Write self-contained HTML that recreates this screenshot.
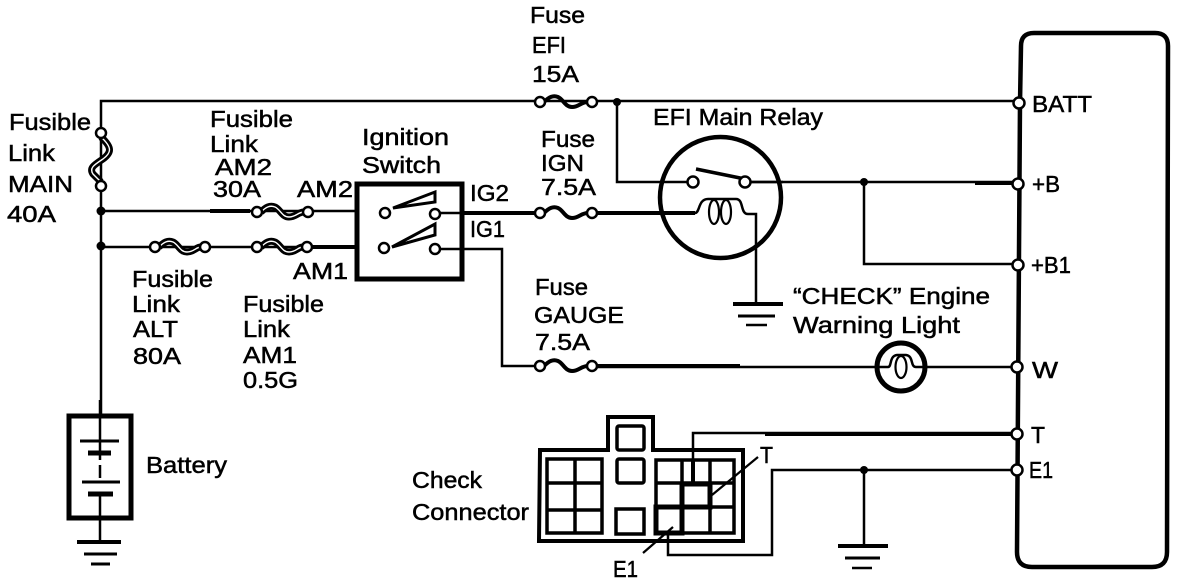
<!DOCTYPE html>
<html><head><meta charset="utf-8"><style>
html,body{margin:0;padding:0;background:#fff;width:1184px;height:584px;overflow:hidden}
svg{display:block}
text{font-family:"Liberation Sans",sans-serif;font-size:23px;fill:#000;stroke:#000;stroke-width:.5px}
.w{fill:none;stroke:#000;stroke-width:2.5}
.t{fill:none;stroke:#000;stroke-width:4}
.o{fill:none;stroke:#000;stroke-width:5}
.c{fill:#fff;stroke:#000;stroke-width:2.5}
.k{fill:none;stroke:#000;stroke-width:7}
.i{fill:none;stroke:#fff;stroke-width:1.4}
.f{fill:none;stroke:#000;stroke-width:4}
</style></head><body>
<svg width="1184" height="584" viewBox="0 0 1184 584" xmlns="http://www.w3.org/2000/svg">
<!-- wires -->
<path class="w" d="M101 415V101H1016"/>
<path class="w" d="M617 102V182H660"/>
<path class="w" d="M749 182H1016" />
<path class="t" d="M975 183H1016"/>
<path class="w" d="M864 182V264H1016"/>
<path class="w" d="M101 211H358M101 247H358"/>
<path class="t" d="M312 247H358M210 211H250"/>
<path class="w" d="M440 213H540M440 249H502V366H540"/>
<path class="t" d="M462 213H540M592 213H695"/>
<path class="w" d="M592 367H1016"/>
<path class="t" d="M592 366H740"/>
<!-- junctions -->
<circle cx="101" cy="211" r="4.5"/><circle cx="101" cy="246" r="4.5"/><circle cx="617" cy="102" r="4"/><circle cx="864" cy="182" r="4"/><circle cx="864" cy="470" r="4"/>
<!-- fuses -->
<path class="f" d="M544 102c5-5 9-7 14-5c5 2 7 10 14 10c7 0 9-5 16-5"/>
<path class="f" d="M544 213c5-5 9-7 14-5c5 2 7 10 14 10c7 0 9-5 16-5"/>
<path class="f" d="M544 366c5-5 9-7 14-5c5 2 7 10 14 10c7 0 9-5 16-5"/>
<!-- links -->
<path class="k" d="M101 137C113 148 111 153 103 159C94 165 89 168 93 174L101 182"/>
<path class="i" d="M101 137C113 148 111 153 103 159C94 165 89 168 93 174L101 182"/>
<path class="k" d="M261 212c5-5 9-7 14-5c5 2 7 10 14 10c7 0 9-5 15-5"/><path class="i" d="M261 212c5-5 9-7 14-5c5 2 7 10 14 10c7 0 9-5 15-5"/>
<path class="k" d="M261 247c5-5 9-7 14-5c5 2 7 10 14 10c7 0 9-5 14-5"/><path class="i" d="M261 247c5-5 9-7 14-5c5 2 7 10 14 10c7 0 9-5 14-5"/>
<path class="k" d="M159 247c5-5 9-7 14-5c5 2 7 10 14 10c7 0 9-5 14-5"/><path class="i" d="M159 247c5-5 9-7 14-5c5 2 7 10 14 10c7 0 9-5 14-5"/>
<!-- terminals -->
<circle cx="101" cy="133" r="5" class="c"/><circle cx="101" cy="186" r="5" class="c"/>
<circle cx="257" cy="212" r="5" class="c"/><circle cx="308" cy="212" r="5" class="c"/>
<circle cx="257" cy="247" r="5" class="c"/><circle cx="307" cy="247" r="5" class="c"/>
<circle cx="155" cy="247" r="5" class="c"/><circle cx="205" cy="247" r="5" class="c"/>
<circle cx="540" cy="102" r="5" class="c"/><circle cx="592" cy="102" r="5" class="c"/>
<circle cx="540" cy="213" r="5" class="c"/><circle cx="592" cy="213" r="5" class="c"/>
<circle cx="540" cy="366" r="5" class="c"/><circle cx="592" cy="366" r="5" class="c"/>
<!-- ignition switch -->
<rect class="o" x="357" y="184" width="105" height="95" fill="none"/>
<path d="M393 208L435 192V202Z" fill="#fff" stroke="#000" stroke-width="3"/>
<path d="M392 247L435 224V235Z" fill="#fff" stroke="#000" stroke-width="3"/>
<circle class="c" cx="385" cy="213" r="5"/><circle class="c" cx="435" cy="214" r="5"/>
<circle class="c" cx="384" cy="248" r="5"/><circle class="c" cx="435" cy="249" r="5"/>
<!-- relay -->
<circle cx="720.5" cy="197.5" r="60.5" fill="none" stroke="#000" stroke-width="4.5"/>
<path class="w" d="M660 182H688M749 182H783"/>
<path d="M696 169L745 179" stroke="#000" stroke-width="3.5" fill="none"/>
<circle class="c" cx="693" cy="182" r="5.5"/><circle class="c" cx="745" cy="182" r="5.5"/>
<path class="w" d="M660 213H695C700 213 698 199 708 199H736C744 199 740 214 748 214H756V302"/>
<ellipse cx="714" cy="212" rx="5" ry="12" fill="none" stroke="#000" stroke-width="2.2"/>
<ellipse cx="726" cy="212" rx="5" ry="12" fill="none" stroke="#000" stroke-width="2.2"/>
<!-- relay ground -->
<path d="M733 304H783" stroke="#000" stroke-width="4"/><path d="M738 316H775" stroke="#000" stroke-width="3"/><path d="M746 325H767" stroke="#000" stroke-width="2.5"/>
<!-- lamp -->
<circle cx="901" cy="367" r="24" fill="#fff" stroke="#000" stroke-width="5"/>
<path class="w" d="M878 367H888C892 367 889 356 897 355H906C914 356 910 367 916 367H924"/>
<ellipse cx="901" cy="367" rx="5.5" ry="11" fill="none" stroke="#000" stroke-width="2.2"/>
<!-- battery -->
<rect class="o" x="69" y="416" width="62" height="102" fill="none"/>
<path class="w" d="M100 400V441M100 441V460"/>
<path d="M100 465V478" stroke="#000" stroke-width="2.5"/>
<path d="M100 494V540" stroke="#000" stroke-width="2.5"/>
<path d="M80 441H119M82 482H120" stroke="#000" stroke-width="3"/>
<path d="M88 453H111M88 494H113" stroke="#000" stroke-width="5"/>
<path d="M77 542H121" stroke="#000" stroke-width="4"/><path d="M84 554H117" stroke="#000" stroke-width="3"/><path d="M91 564H110" stroke="#000" stroke-width="3"/>
<!-- connector -->
<path class="t" d="M540 450H608V417H653V450H743V541H539Z"/>
<g fill="none" stroke="#000" stroke-width="3.5">
<path d="M547 459H602V533H547ZM547 483H602M547 510H602M575 459V533"/>
<rect x="617" y="426" width="27" height="24" rx="2"/>
<rect x="617" y="459" width="27" height="24" rx="2"/>
<rect x="616" y="509" width="28" height="25"/>
<path d="M656 460H734V533H656ZM656 483H734M656 507H734M682 460V533M710 460V533"/>
</g>
<rect x="682" y="484" width="28" height="23" fill="none" stroke="#000" stroke-width="5"/>
<rect x="656" y="507" width="26" height="26" fill="none" stroke="#000" stroke-width="5"/>
<path class="w" d="M693 484V433H1016"/><path class="t" d="M765 434H1016"/>
<path d="M693 460V484" stroke="#000" stroke-width="4"/>
<path class="w" d="M668 533V555H772V470H1016"/>
<path class="w" d="M864 470V545"/>
<path d="M838 546H888" stroke="#000" stroke-width="4"/><path d="M845 558H880" stroke="#000" stroke-width="3"/><path d="M852 568H872" stroke="#000" stroke-width="2.5"/>
<path d="M758 457L712 495" stroke="#000" stroke-width="2.2"/>
<path d="M643 553L673 527" stroke="#000" stroke-width="2.2"/>
<!-- ECU outline -->
<path d="M1020 103L1021 46Q1021 33 1034 33H1155Q1168 33 1168 46L1167 552Q1167 567 1152 567H1032Q1017 567 1017 552Z" fill="none" stroke="#000" stroke-width="4.5"/>
<circle class="c" cx="1019" cy="103" r="5.5"/><circle class="c" cx="1018" cy="184" r="5.5"/><circle class="c" cx="1018" cy="265" r="5.5"/>
<circle class="c" cx="1017" cy="367" r="5.5"/><circle class="c" cx="1017" cy="434" r="5.5"/><circle class="c" cx="1017" cy="470" r="5.5"/>
<!-- labels -->
<g lengthAdjust="spacingAndGlyphs">
<text lengthAdjust="spacingAndGlyphs" x="9" y="130" textLength="82">Fusible</text>
<text lengthAdjust="spacingAndGlyphs" x="8" y="161" textLength="47">Link</text>
<text lengthAdjust="spacingAndGlyphs" x="8" y="192" textLength="65">MAIN</text>
<text lengthAdjust="spacingAndGlyphs" x="7" y="222" textLength="49">40A</text>
<text lengthAdjust="spacingAndGlyphs" x="210" y="127" textLength="83">Fusible</text>
<text lengthAdjust="spacingAndGlyphs" x="210" y="152" textLength="48">Link</text>
<text lengthAdjust="spacingAndGlyphs" x="215" y="175" textLength="57">AM2</text>
<text lengthAdjust="spacingAndGlyphs" x="213" y="197" textLength="48">30A</text>
<text lengthAdjust="spacingAndGlyphs" x="297" y="197" textLength="56">AM2</text>
<text lengthAdjust="spacingAndGlyphs" x="362" y="145" textLength="87">Ignition</text>
<text lengthAdjust="spacingAndGlyphs" x="362" y="173" textLength="79">Switch</text>
<text lengthAdjust="spacingAndGlyphs" x="470" y="201" textLength="39">IG2</text>
<text lengthAdjust="spacingAndGlyphs" x="470" y="237" textLength="35">IG1</text>
<text lengthAdjust="spacingAndGlyphs" x="530" y="23" textLength="55">Fuse</text>
<text lengthAdjust="spacingAndGlyphs" x="532" y="53" textLength="34">EFI</text>
<text lengthAdjust="spacingAndGlyphs" x="532" y="82" textLength="47">15A</text>
<text lengthAdjust="spacingAndGlyphs" x="541" y="147" textLength="54">Fuse</text>
<text lengthAdjust="spacingAndGlyphs" x="541" y="171" textLength="43">IGN</text>
<text lengthAdjust="spacingAndGlyphs" x="541" y="195" textLength="55">7.5A</text>
<text lengthAdjust="spacingAndGlyphs" x="653" y="125" textLength="170">EFI Main Relay</text>
<text lengthAdjust="spacingAndGlyphs" x="793" y="304" textLength="197">“CHECK” Engine</text>
<text lengthAdjust="spacingAndGlyphs" x="793" y="333" textLength="167">Warning Light</text>
<text lengthAdjust="spacingAndGlyphs" x="146" y="473" textLength="81">Battery</text>
<text lengthAdjust="spacingAndGlyphs" x="412" y="488" textLength="70">Check</text>
<text lengthAdjust="spacingAndGlyphs" x="412" y="520" textLength="117">Connector</text>
<text lengthAdjust="spacingAndGlyphs" x="760" y="463" textLength="13">T</text>
<text lengthAdjust="spacingAndGlyphs" x="613" y="577" textLength="25">E1</text>
<text lengthAdjust="spacingAndGlyphs" x="535" y="295" textLength="53">Fuse</text>
<text lengthAdjust="spacingAndGlyphs" x="534" y="323" textLength="90">GAUGE</text>
<text lengthAdjust="spacingAndGlyphs" x="535" y="350" textLength="55">7.5A</text>
<text lengthAdjust="spacingAndGlyphs" x="132" y="287" textLength="81">Fusible</text>
<text lengthAdjust="spacingAndGlyphs" x="132" y="312" textLength="48">Link</text>
<text lengthAdjust="spacingAndGlyphs" x="133" y="337" textLength="45">ALT</text>
<text lengthAdjust="spacingAndGlyphs" x="133" y="364" textLength="48">80A</text>
<text lengthAdjust="spacingAndGlyphs" x="243" y="312" textLength="81">Fusible</text>
<text lengthAdjust="spacingAndGlyphs" x="243" y="337" textLength="47">Link</text>
<text lengthAdjust="spacingAndGlyphs" x="243" y="363" textLength="54">AM1</text>
<text lengthAdjust="spacingAndGlyphs" x="243" y="388" textLength="55">0.5G</text>
<text lengthAdjust="spacingAndGlyphs" x="293" y="279" textLength="55">AM1</text>
<text lengthAdjust="spacingAndGlyphs" x="1032" y="112" textLength="60">BATT</text>
<text lengthAdjust="spacingAndGlyphs" x="1032" y="192" textLength="28">+B</text>
<text lengthAdjust="spacingAndGlyphs" x="1031" y="273" textLength="40">+B1</text>
<text lengthAdjust="spacingAndGlyphs" x="1032" y="378" textLength="26">W</text>
<text lengthAdjust="spacingAndGlyphs" x="1031" y="443" textLength="14">T</text>
<text lengthAdjust="spacingAndGlyphs" x="1029" y="478" textLength="24">E1</text>
</g>
</svg>
</body></html>
